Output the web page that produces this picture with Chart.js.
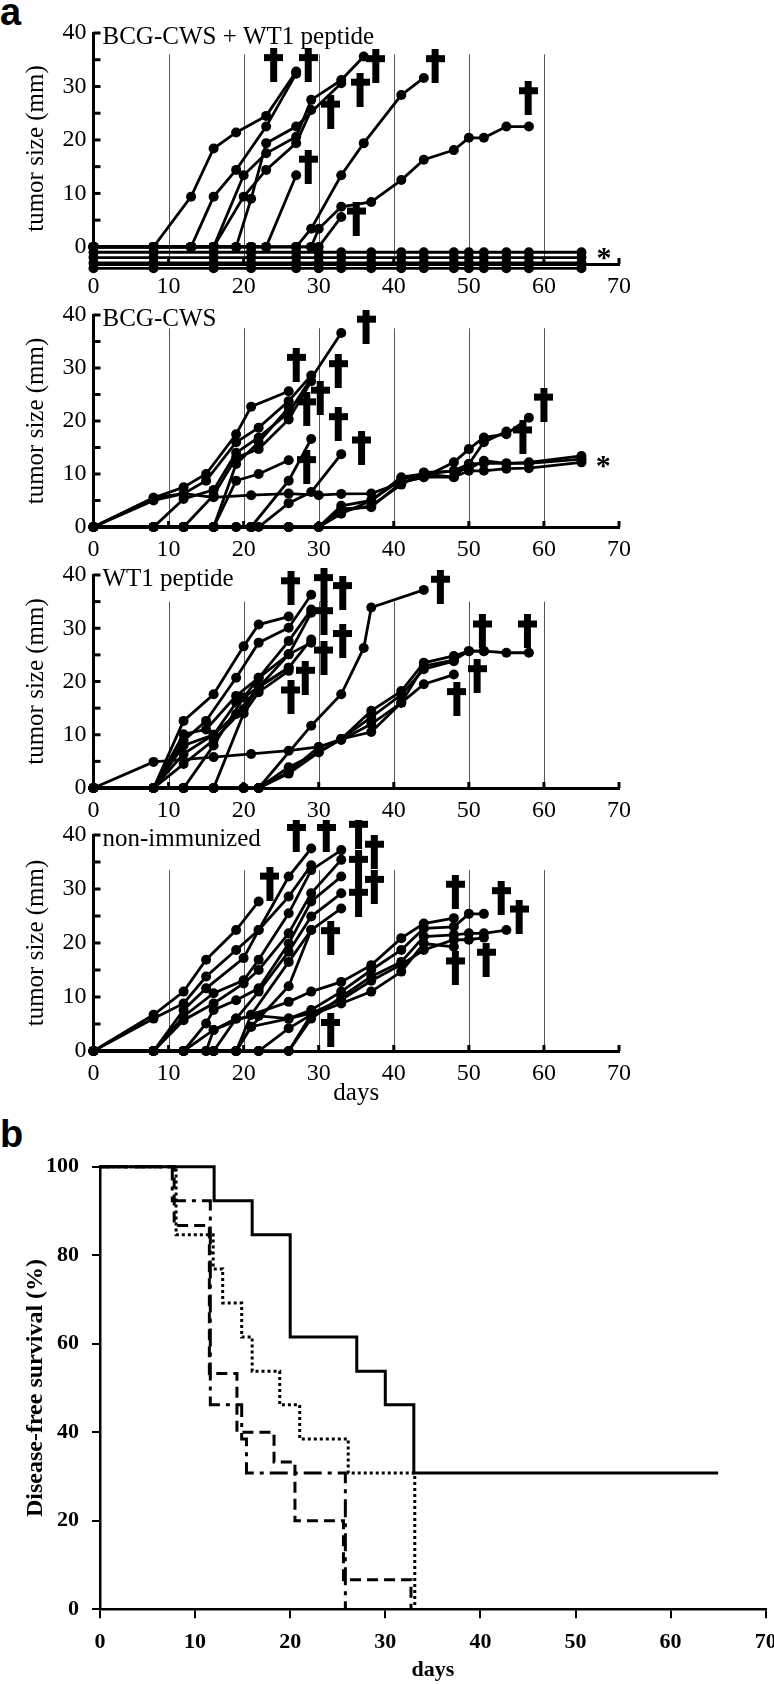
<!DOCTYPE html>
<html>
<head>
<meta charset="utf-8">
<script src="https://cdn.jsdelivr.net/npm/chart.js@4.4.1/dist/chart.umd.min.js"></script>
<style>
  html, body { margin: 0; padding: 0; background: #fff; }
  body { width: 774px; height: 1684px; position: relative; overflow: hidden; }
  canvas { position: absolute; left: 0; }
  .tag { position: absolute; left: 0; font: bold 38px "Liberation Sans", Arial, sans-serif; line-height: 1; color: #000; }
</style>
</head>
<body>
<div class="tag" style="top:-7px">a</div>
<div class="tag" style="top:1115px">b</div>
<canvas id="a1" width="774" height="300" style="top:0"></canvas>
<canvas id="a2" width="774" height="260" style="top:300px"></canvas>
<canvas id="a3" width="774" height="260" style="top:560px"></canvas>
<canvas id="a4" width="774" height="290" style="top:820px"></canvas>
<canvas id="b" width="774" height="574" style="top:1110px"></canvas>
<script>
/* ---- panel a: tumour growth, one [day, size] list per mouse ---- */
const A1_LABEL = "BCG-CWS + WT1 peptide";
const A1_TUMOR = [
  [[0,0],[8,0],[13,9.4],[16,18.4],[19,21.4],[23,24.5],[27,32.8]],
  [[0,0],[8,0],[13,0],[16,9.4],[19,14.4],[23,22.5],[27,32.4]],
  [[0,0],[8,0],[13,0],[16,0],[20,13.4],[23,17.5],[27,20.6],[29,27.5],[33,31.2],[36,35.6]],
  [[0,0],[8,0],[13,0],[16,0],[20,9.4],[23,14.4],[27,19.4],[29,25.6]],
  [[0,0],[8,0],[13,0],[16,0],[19,0],[21,9],[23,19.4],[27,22.5],[33,30.6]],
  [[0,0],[8,0],[13,0],[16,0],[19,0],[21,0],[23,0],[27,13.4]],
  [[0,0],[8,0],[13,0],[16,0],[21,0],[23,0],[27,0],[29,3.4],[33,13.4],[36,19.4],[41,28.4],[44,31.6]],
  [[0,0],[8,0],[16,0],[21,0],[27,0],[29,0],[30,3.4],[33,7.5],[37,8.4],[41,12.5],[44,16.3],[48,18.1],[50,20.4],[52,20.4],[55,22.5],[58,22.5]],
  [[0,0],[8,0],[16,0],[21,0],[27,0],[29,0],[30,0],[33,5.6]]
];
const A1_FREE_DAYS = [0,8,16,21,27,30,33,37,41,44,48,50,52,55,58,65];
const A1_FREE_LEVELS = [-1,-2,-3,-4];
const A1_DEATHS = [[24,34],[28.6,34],[37.6,33.8],[35.5,29.4],[31.6,25.3],[28.6,15],[35,5.3],[45.5,33.8],[57.9,27.8]];
const A1_STAR = [68,-1.1];

const A2_LABEL = "BCG-CWS";
const A2_TUMOR = [
  [[0,0],[8,5.5],[12,7.5],[15,10],[19,17.5],[21,22.7],[26,25.6]],
  [[0,0],[8,5],[12,6.3],[15,8.75],[19,16],[22,18.75],[26,23.75],[29,28.6]],
  [[0,0],[8,0],[12,5.3],[16,7],[19,14],[22,16.9],[26,21.6],[33,36.6]],
  [[0,0],[8,0],[12,0],[16,6],[19,13.1],[22,14.7],[26,20.3],[29,27.5]],
  [[0,0],[8,0],[12,0],[16,0],[19,11.9],[22,16],[26,22.5]],
  [[0,0],[8,0],[12,0],[16,0],[19,8.75],[22,10],[26,12.6]],
  [[0,0],[8,0],[12,0],[16,0],[19,0],[21,0],[26,8.75],[29,16.6]],
  [[0,0],[8,0],[12,0],[16,0],[19,0],[21,0],[22,0],[26,4.5],[29,6.6],[33,13.75]],
  [[0,0],[8,5.5],[12,6.3],[16,5.6],[21,6],[26,6.3],[30,6],[33,6.25],[37,6.3],[41,8.4],[44,9.4],[48,9.4],[50,10.6],[52,10.6],[55,11],[58,11.1],[65,12.2]],
  [[0,0],[8,0],[12,0],[16,0],[21,0],[26,0],[30,0],[33,3.4],[37,3.75],[41,8.4],[44,9.4],[48,12.2],[50,14.7],[52,16.9],[55,17.5],[58,20.6]],
  [[0,0],[8,0],[12,0],[16,0],[21,0],[26,0],[30,0],[33,4],[37,5],[41,9.4],[44,10],[48,10.6],[50,11.9],[52,16],[55,18]],
  [[0,0],[8,0],[12,0],[16,0],[21,0],[26,0],[30,0],[33,2.5],[37,5],[41,9],[44,10],[48,9.4],[50,11.9],[52,12],[55,12],[58,12],[65,12.8]],
  [[0,0],[8,0],[12,0],[16,0],[21,0],[26,0],[30,0],[33,3],[37,4],[41,8],[44,10.3],[48,10.5],[50,11],[52,12.5],[55,12],[58,12.2],[65,13.4]]
];
const A2_DEATHS = [[27,30.6],[32.6,29.4],[30.2,24.4],[28.4,22.2],[32.6,19.4],[28.4,11.3],[35.7,15],[36.3,37.8],[60,23.1],[57.2,16.9]];
const A2_STAR = [67.9,12.5];

const A3_LABEL = "WT1 peptide";
const A3_TUMOR = [
  [[0,0],[8,0],[12,12.6],[16,17.6],[20,26.6],[22,30.7],[26,32.2]],
  [[0,0],[8,0],[12,8.9],[15,12.6],[19,20.7],[22,27.3],[26,30.1],[29,36.3]],
  [[0,0],[8,0],[12,10.1],[15,11],[19,17.3],[22,20.7],[26,27.6],[29,33.5]],
  [[0,0],[8,0],[12,6.4],[16,10],[19,13.9],[22,18.9],[26,25.1],[29,32.9]],
  [[0,0],[8,0],[12,4.5],[16,9],[20,14.8],[22,18.9],[26,22.6],[29,27.9]],
  [[0,0],[8,0],[12,0],[16,8],[20,17],[22,20.7],[26,25.1],[29,27.3]],
  [[0,0],[8,0],[12,8],[16,10],[19,16],[22,19],[26,22.6]],
  [[0,0],[8,0],[12,0],[16,0],[20,14],[22,18],[26,22]],
  [[0,0],[8,0],[12,0],[16,0],[20,0],[22,0],[29,11.7],[33,17.6],[36,26.3],[37,33.9],[44,37.2]],
  [[0,0],[8,4.9],[16,5.8],[21,6.4],[26,7],[30,7.7],[33,9.2],[37,10.5],[41,16],[44,19.5],[48,21.3]],
  [[0,0],[8,0],[12,0],[16,0],[20,0],[22,0],[26,3.9],[30,6.7],[33,9.2],[37,14.5],[41,18.2],[44,23.5],[48,24.8],[50,25.7],[52,25.7]],
  [[0,0],[8,0],[12,0],[16,0],[20,0],[22,0],[26,2.7],[30,6.7],[33,9.2],[37,13.3],[41,17.5],[44,22.3],[48,23.8]],
  [[0,0],[8,0],[12,0],[16,0],[20,0],[22,0],[26,3],[30,7.7],[33,9],[37,12],[41,16],[44,22.9],[48,24],[50,25.7],[52,25.7],[55,25.4],[58,25.4]]
];
const A3_DEATHS = [[26.3,37.5],[30.7,38.1],[33.2,36.6],[30.7,31.9],[33.2,27.6],[30.7,24.5],[28.2,20.7],[26.3,17],[46.2,37.8],[51.8,29.4],[57.8,29.4],[51.1,21],[48.4,16.7]];

const A4_LABEL = "non-immunized";
const A4_TUMOR = [
  [[0,0],[8,6.7],[12,11],[15,16.9],[19,22.4],[22,27.7]],
  [[0,0],[8,6],[12,8.8],[15,13.8],[19,18.7],[22,22.4],[26,32.3],[29,37.5]],
  [[0,0],[8,0],[12,7.6],[15,11.6],[20,17.2],[22,22.4],[26,28.6],[29,34.4]],
  [[0,0],[8,0],[12,6.4],[16,10.7],[20,13.1],[22,16.9],[26,25.5],[29,33.5],[33,37.2]],
  [[0,0],[8,0],[12,5.7],[16,8.8],[20,12.5],[22,15],[26,21.8],[29,29.2],[33,35.4]],
  [[0,0],[8,0],[12,0],[15,5.1],[16,7.6],[19,9.4],[22,11.6],[26,19.9],[29,27.7],[33,32.3]],
  [[0,0],[8,0],[12,0],[15,0],[16,3.9],[19,6],[22,11],[26,18.4],[29,24.9],[33,29.2]],
  [[0,0],[8,0],[12,0],[15,0],[16,0],[19,0],[21,6.7],[26,16.5],[29,22.4],[33,26.4]],
  [[0,0],[8,0],[12,0],[16,0],[19,0],[21,4.5],[26,12],[29,22.4]],
  [[0,0],[8,0],[12,0],[16,0],[19,0],[22,0],[26,0],[29,6.7]],
  [[0,0],[8,0],[12,0],[16,3.9],[21,6.7],[26,9.1],[29,11],[33,12.8],[37,15.9],[41,20.9],[44,23.6],[48,24.6]],
  [[0,0],[8,0],[12,0],[16,0],[19,0],[21,4.5],[26,6],[29,7.6],[33,11],[37,15],[41,18.7],[44,22.7],[48,23],[50,25.4],[52,25.4]],
  [[0,0],[8,0],[12,0],[16,0],[19,0],[22,0],[26,4.2],[29,6.7],[33,8.8],[37,11],[41,14.7],[44,19.9],[48,19.3]],
  [[0,0],[8,0],[12,0],[16,0],[19,0],[22,0],[26,0],[29,6],[33,10],[37,13.8],[41,16.5],[44,21.2],[48,21.5],[50,21.8],[52,21.8],[55,22.4]],
  [[0,0],[8,0],[12,0],[16,0],[19,6],[22,6.5],[26,6],[29,7],[33,9.5],[37,13],[41,16],[44,18.7],[48,20.6],[50,20.6],[52,21]]
];
const A4_DEATHS = [[27,40],[31,40],[35.3,40.6],[37.4,36.9],[35.3,34.1],[37.4,30.4],[35.3,28],[23.5,31],[31.6,20.9],[31.6,3.9],[48.2,29.5],[54.3,28.3],[56.7,24.9],[48.2,15.3],[52.3,16.9]];

const DAY_TICKS = [0,10,20,30,40,50,60,70];
const SIZE_TICKS = [0,10,20,30,40];

/* ---- panel b: disease-free survival ---- */
const KM_SOLID_DAYS   = [0, 12, 16, 20, 27, 30, 33, 65];
const KM_SOLID        = [100, 92.3, 84.6, 61.5, 53.8, 46.2, 30.8, 30.8];
const KM_DOT_DAYS     = [0, 8, 11.9, 12.9, 14.9, 16, 18.9, 21, 26.1, 33.1];
const KM_DOT          = [100, 84.6, 76.9, 69.2, 61.5, 53.8, 46.2, 38.5, 30.8, 0];
const KM_DASH_DAYS    = [0, 7.8, 11.5, 14.4, 18.3, 20.5, 25.6, 32.7];
const KM_DASH         = [100, 86.7, 53.3, 40, 33.3, 20, 6.7, 0];
const KM_DASHDOT_DAYS = [0, 7.6, 11.6, 14.9, 15.4, 25.8];
const KM_DASHDOT      = [100, 92.3, 46.2, 38.5, 30.8, 0];
const SURV_TICKS = [0,20,40,60,80,100];

const SERIF = '"Liberation Serif", "Times New Roman", serif';
Chart.defaults.font.family = SERIF;
Chart.defaults.color = "#000";

/* dagger mark used as point style */
function makeDagger() {
  const c = document.createElement("canvas");
  c.width = 19; c.height = 34;
  const g = c.getContext("2d");
  g.fillStyle = "#000";
  g.fillRect(6, 0, 7, 34);
  g.fillRect(0, 6, 19, 7);
  return c;
}
const DAGGER = makeDagger();

const pts = list => list.map(([x, y]) => ({ x, y }));

/* gridlines, inward ticks, panel label, asterisk */
const tumorDecor = {
  id: "tumorDecor",
  beforeDatasetsDraw(chart, args, o) {
    const { ctx, chartArea: a, scales: { x, y } } = chart;
    ctx.save();
    ctx.strokeStyle = "#555"; ctx.lineWidth = 1;
    x.ticks.forEach(t => {
      if (t.value <= 0 || t.value >= 70) return;
      const px = Math.round(x.getPixelForValue(t.value)) + 0.5;
      ctx.beginPath(); ctx.moveTo(px, y.getPixelForValue(o.gridTop)); ctx.lineTo(px, a.bottom); ctx.stroke();
    });
    ctx.restore();
  },
  afterDatasetsDraw(chart, args, o) {
    const { ctx, chartArea: a, scales: { x, y } } = chart;
    ctx.save();
    ctx.strokeStyle = "#000"; ctx.lineWidth = 3;
    y.ticks.forEach(t => {
      if (t.value < 0) return;
      const py = y.getPixelForValue(t.value);
      ctx.beginPath(); ctx.moveTo(a.left, py); ctx.lineTo(a.left + 7, py); ctx.stroke();
    });
    x.ticks.forEach(t => {
      if (t.value <= 0) return;
      const px = x.getPixelForValue(t.value);
      ctx.beginPath(); ctx.moveTo(px, a.bottom); ctx.lineTo(px, a.bottom - 6); ctx.stroke();
    });
    ctx.fillStyle = "#000";
    ctx.font = "25px " + SERIF;
    ctx.textBaseline = "middle"; ctx.textAlign = "left";
    ctx.fillText(o.label, a.left + 9, y.getPixelForValue(40) + 4);
    if (o.star) {
      ctx.font = "bold 30px " + SERIF;
      ctx.textAlign = "center";
      ctx.fillText("*", x.getPixelForValue(o.star[0]), y.getPixelForValue(o.star[1]) + 6);
    }
    ctx.restore();
  }
};

function tumorPanel(id, cfg) {
  const sets = cfg.tumor.map(s => ({
    data: pts(s), showLine: true, borderColor: "#000", borderWidth: 2.8,
    pointRadius: 5, pointHoverRadius: 6, pointBackgroundColor: "#000", pointBorderWidth: 0, clip: false
  }));
  sets.push({
    data: pts(cfg.deaths), showLine: false, pointStyle: DAGGER,
    pointRadius: 14, pointHoverRadius: 14, clip: false
  });
  const font = { family: SERIF, size: 24 };
  new Chart(document.getElementById(id), {
    type: "scatter",
    data: { datasets: sets },
    options: {
      responsive: false, animation: false,
      layout: { padding: { top: cfg.top, right: 155, left: 0, bottom: 0 } },
      plugins: {
        legend: { display: false }, tooltip: { enabled: false },
        tumorDecor: { label: cfg.label, star: cfg.star, gridTop: cfg.gridTop }
      },
      scales: {
        x: {
          type: "linear", min: 0, max: 70,
          afterBuildTicks: s => { s.ticks = DAY_TICKS.map(v => ({ value: v })); },
          ticks: { font, color: "#000", padding: 8, maxRotation: 0, autoSkip: false },
          grid: { display: false, drawTicks: false },
          border: { color: "#000", width: 3 },
          title: { display: !!cfg.days, text: "days", color: "#000", font: { family: SERIF, size: 25 }, padding: { top: 0, bottom: 2 } },
          afterFit: s => { s.height = cfg.xh; s.paddingLeft = 0; s.paddingRight = 0; }
        },
        y: {
          type: "linear", min: cfg.min, max: 40,
          afterBuildTicks: s => { s.ticks = [0,5,10,15,20,25,30,35,40].map(v => ({ value: v })); },
          ticks: { font, color: "#000", padding: 7, autoSkip: false,
                   callback: v => SIZE_TICKS.includes(v) ? String(v) : "" },
          grid: { display: false, drawTicks: false },
          border: { color: "#000", width: 3 },
          title: { display: true, text: "tumor size (mm)", color: "#000", font: { family: SERIF, size: 25 }, padding: { top: 21, bottom: 0 } },
          afterFit: s => { s.width = 93.5; s.paddingTop = 0; s.paddingBottom = 0; }
        }
      }
    },
    plugins: [tumorDecor]
  });
}

const A1_ALL = A1_TUMOR.concat(A1_FREE_LEVELS.map(v => A1_FREE_DAYS.map(d => [d, v])));

tumorPanel("a1", { label: A1_LABEL, tumor: A1_ALL, deaths: A1_DEATHS, star: A1_STAR, min: -3.2, top: 33, xh: 36, gridTop: 36 });
tumorPanel("a2", { label: A2_LABEL, tumor: A2_TUMOR, deaths: A2_DEATHS, star: A2_STAR, min: 0, top: 13, xh: 33, gridTop: 37.5 });
tumorPanel("a3", { label: A3_LABEL, tumor: A3_TUMOR, deaths: A3_DEATHS, min: 0, top: 13, xh: 32, gridTop: 35 });
tumorPanel("a4", { label: A4_LABEL, tumor: A4_TUMOR, deaths: A4_DEATHS, min: 0, top: 15, xh: 59, gridTop: 33.5, days: true });

/* ---- panel b ---- */
function kmSet(days, surv, dash) {
  return {
    data: days.map((d, i) => ({ x: d, y: surv[i] })),
    showLine: true, stepped: "before", borderColor: "#000", borderWidth: 3,
    borderDash: dash, borderCapStyle: "butt", pointRadius: 0, clip: false
  };
}
const bold = { family: SERIF, size: 22, weight: "bold" };
new Chart(document.getElementById("b"), {
  type: "scatter",
  data: {
    datasets: [
      kmSet(KM_SOLID_DAYS, KM_SOLID, []),
      kmSet(KM_DOT_DAYS, KM_DOT, [3, 3]),
      kmSet(KM_DASH_DAYS, KM_DASH, [11, 6]),
      kmSet(KM_DASHDOT_DAYS, KM_DASHDOT, [18, 6, 4, 6])
    ]
  },
  options: {
    responsive: false, animation: false,
    layout: { padding: { top: 56.7, right: 8.3, left: 0, bottom: 0 } },
    plugins: { legend: { display: false }, tooltip: { enabled: false } },
    scales: {
      x: {
        type: "linear", min: 0, max: 70,
        afterBuildTicks: s => { s.ticks = DAY_TICKS.map(v => ({ value: v })); },
        ticks: { font: bold, color: "#000", padding: 11, maxRotation: 0, autoSkip: false },
        grid: { display: true, drawOnChartArea: false, drawTicks: true, tickLength: 9, color: "#000", lineWidth: 2 },
        border: { color: "#000", width: 2.5 },
        title: { display: true, text: "days", color: "#000", font: bold, padding: { top: 0, bottom: 0 } },
        afterFit: s => { s.height = 74.7; s.paddingLeft = 0; s.paddingRight = 0; }
      },
      y: {
        type: "linear", min: 0, max: 100,
        afterBuildTicks: s => { s.ticks = SURV_TICKS.map(v => ({ value: v })); },
        ticks: { font: bold, color: "#000", padding: 13, autoSkip: false },
        grid: { display: true, drawOnChartArea: false, drawTicks: true, tickLength: 8, color: "#000", lineWidth: 2 },
        border: { color: "#000", width: 2.5 },
        title: { display: true, text: "Disease-free survival (%)", color: "#000", font: { family: SERIF, size: 24, weight: "bold" }, padding: { top: 21.6, bottom: 0 } },
        afterFit: s => { s.width = 100; s.paddingTop = 0; s.paddingBottom = 0; }
      }
    }
  }
});
</script>
</body>
</html>
